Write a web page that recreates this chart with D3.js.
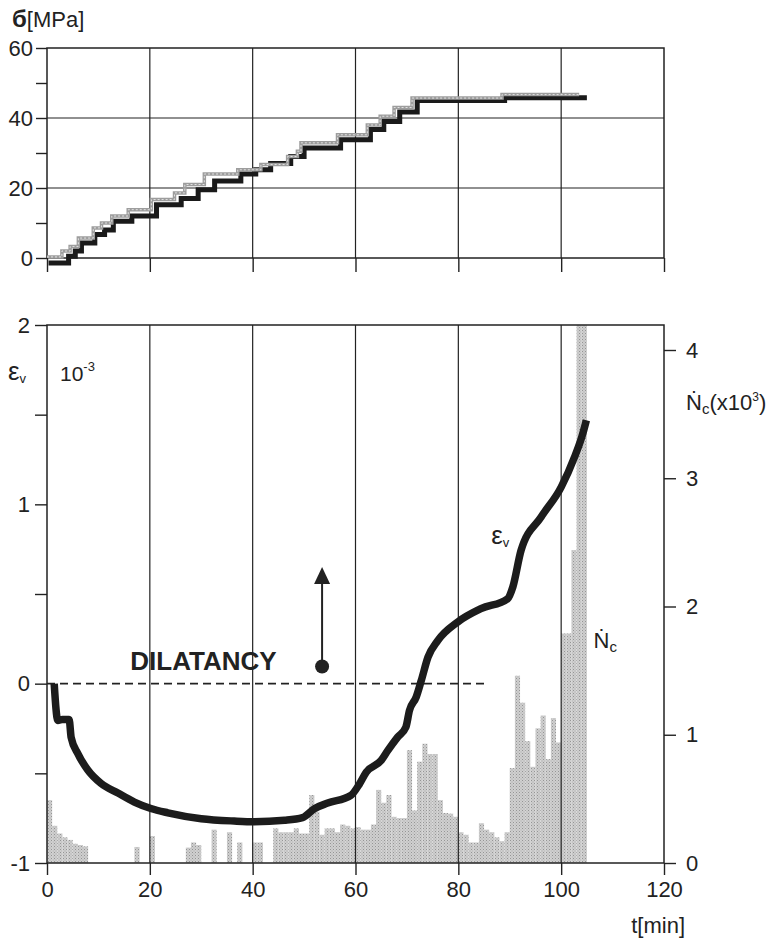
<!DOCTYPE html>
<html>
<head>
<meta charset="utf-8">
<script src="https://cdn.jsdelivr.net/npm/d3@7"></script>
<style>
  body { margin: 0; background: #fff; }
  svg text { font-family: "Liberation Sans", Arial, sans-serif; fill: #222; }
</style>
</head>
<body>
<svg id="chart"></svg>
<script>
const width = 771;
const height = 940;
const xRange = [47, 664];
const topPanel = { top: 48, bottom: 258 };
const botPanel = { top: 325, bottom: 863 };

// stress record, dark step curve (t in min, MPa)
const sigDarkT = [0.3, 4.2, 5.5, 6.7, 9.3, 11.2, 12.9, 16.5, 21.3, 26.1, 29.4, 32.6, 37.7, 40.6, 43.5, 47.4, 50, 57.1, 62.9, 65.5, 68.6, 72, 89, 105];
const sigDarkV = [-1.4, 0.5, 2, 4.3, 6.7, 8, 10.5, 12, 15.2, 17, 19.5, 22, 24, 25.2, 27, 29, 31.4, 33.8, 36.7, 39, 41.7, 45, 45.8, 45.8];
// stress record, light step curve
const sigLightT = [0, 2.9, 4.5, 6.1, 9, 10.6, 12.6, 15.8, 20.3, 24.8, 26.8, 30.6, 37.1, 41.6, 46.8, 48.7, 49.4, 56.5, 62.3, 64.8, 67.5, 71, 88.5, 103.5];
const sigLightV = [0.3, 2, 3.3, 5.7, 8.6, 10, 12, 13.8, 16.7, 18.6, 21, 24, 25.2, 26.7, 29, 30.5, 32.9, 35.2, 38, 40.5, 43, 45.7, 46.7, 46.7];

// volumetric strain (x10^-3)
const epsT = [1.4, 2.1, 3, 4.3, 4.7, 6, 7.9, 10.5, 13.8, 17, 20.2, 23.5, 30, 36.4, 40.3, 46.2, 49.7, 52, 54.6, 59.1, 60.8, 62.1, 65, 66.3, 68.2, 69.8, 70.5, 71.8, 72.8, 74.1, 76, 79.9, 84.4, 89.6, 90.6, 92.2, 96.1, 100, 102.6, 104.2, 104.9];
const epsV = [0, -0.205, -0.2, -0.2, -0.3, -0.39, -0.48, -0.556, -0.61, -0.66, -0.696, -0.72, -0.753, -0.766, -0.77, -0.762, -0.747, -0.697, -0.666, -0.623, -0.558, -0.493, -0.428, -0.372, -0.298, -0.242, -0.149, -0.075, 0.018, 0.148, 0.24, 0.344, 0.418, 0.474, 0.539, 0.743, 0.929, 1.096, 1.264, 1.394, 1.469];

// event rate Nc (x10^3), one value per minute starting at t = 0
const ncValues = [
  0.49, 0.29, 0.23, 0.20, 0.18, 0.15, 0.14, 0.13, 0, 0,
  0, 0, 0, 0, 0, 0, 0, 0.125, 0, 0,
  0.21, 0, 0, 0, 0, 0, 0, 0.12, 0.16, 0.14,
  0, 0, 0.26, 0, 0, 0.24, 0, 0.16, 0, 0,
  0.16, 0.16, 0, 0, 0.27, 0.24, 0.24, 0.24, 0.27, 0.23,
  0.23, 0.53, 0.40, 0.22, 0.27, 0.27, 0.24, 0.30, 0.29, 0.27,
  0.28, 0.26, 0.26, 0.30, 0.57, 0.47, 0.53, 0.36, 0.35, 0.35,
  0.88, 0.41, 0.79, 0.93, 0.85, 0.85, 0.49, 0.39, 0.385, 0.36,
  0.24, 0.22, 0.16, 0.16, 0.31, 0.26, 0.24, 0.20, 0.17, 0.24,
  0.74, 1.46, 1.25, 0.95, 0.75, 1.05, 1.15, 0.81, 1.13, 0.94,
  1.79, 1.79, 2.44, 4.3, 4.3
];

const timeTicks = [0, 20, 40, 60, 80, 100, 120];
const sigTicks = [0, 10, 20, 30, 40, 50, 60];
const epsTicks = [-1, -0.5, 0, 0.5, 1, 1.5, 2];
const ncTicks = [0, 1, 2, 3, 4];

const svg = d3.select("#chart")
    .attr("width", width)
    .attr("height", height);

const ink = "#222";

const x = d3.scaleLinear().domain([0, 120]).range(xRange);
const ySig = d3.scaleLinear().domain([0, 60]).range([topPanel.bottom, topPanel.top]);
const yEps = d3.scaleLinear().domain([-1, 2]).range([botPanel.bottom, botPanel.top]);
const yNc = d3.scaleLinear().domain([0, 4]).range([botPanel.bottom, 350]);

function styleAxis(g) {
    g.select(".domain").remove();
    g.selectAll(".tick line").attr("stroke", ink).attr("stroke-width", 1.4);
    g.selectAll(".tick text").attr("font-size", 22).attr("font-family", null).attr("fill", ink);
}

// halftone look for the histogram
const defs = svg.append("defs");
const pat = defs.append("pattern")
    .attr("id", "dots")
    .attr("width", 3).attr("height", 3)
    .attr("patternUnits", "userSpaceOnUse");
pat.append("rect").attr("width", 3).attr("height", 3).attr("fill", "#cfcfcf");
pat.append("rect").attr("width", 1).attr("height", 1).attr("fill", "#959595");
pat.append("rect").attr("x", 1.5).attr("y", 1.5).attr("width", 1).attr("height", 1).attr("fill", "#aaaaaa");

defs.append("clipPath").attr("id", "botClip")
  .append("rect")
    .attr("x", xRange[0]).attr("y", botPanel.top)
    .attr("width", xRange[1] - xRange[0]).attr("height", botPanel.bottom - botPanel.top);

// ---------- top panel: stress ----------
const topG = svg.append("g");

topG.append("g")
    .selectAll("line")
    .data([20, 40, 60, 80, 100])
    .join("line")
    .attr("x1", d => x(d)).attr("x2", d => x(d))
    .attr("y1", topPanel.top).attr("y2", topPanel.bottom)
    .attr("stroke", ink).attr("stroke-width", 1.2);

topG.append("g")
    .selectAll("line")
    .data([20, 40])
    .join("line")
    .attr("x1", xRange[0]).attr("x2", xRange[1])
    .attr("y1", d => ySig(d)).attr("y2", d => ySig(d))
    .attr("stroke", ink).attr("stroke-width", 1.2);

topG.append("rect")
    .attr("x", xRange[0]).attr("y", topPanel.top)
    .attr("width", xRange[1] - xRange[0]).attr("height", topPanel.bottom - topPanel.top)
    .attr("fill", "none").attr("stroke", ink).attr("stroke-width", 1.5);

const stepLine = d3.line()
    .x(d => x(d[0]))
    .y(d => ySig(d[1]))
    .curve(d3.curveStepAfter);

topG.append("path")
    .datum(d3.zip(sigDarkT, sigDarkV))
    .attr("d", stepLine)
    .attr("fill", "none").attr("stroke", "#1a1a1a").attr("stroke-width", 5);

topG.append("path")
    .datum(d3.zip(sigLightT, sigLightV))
    .attr("d", stepLine)
    .attr("fill", "none").attr("stroke", "#9d9d9d").attr("stroke-width", 3.5);

topG.append("path")
    .datum(d3.zip(sigLightT, sigLightV))
    .attr("d", stepLine)
    .attr("fill", "none").attr("stroke", "#e2e2e2").attr("stroke-width", 1)
    .attr("stroke-dasharray", "2,2");

topG.append("g")
    .attr("transform", `translate(${xRange[0]},0)`)
    .call(d3.axisLeft(ySig).tickValues(sigTicks).tickSize(11).tickPadding(3)
        .tickFormat(d => d % 20 === 0 ? d : ""))
    .call(styleAxis);

topG.append("g")
    .attr("transform", `translate(0,${topPanel.bottom})`)
    .call(d3.axisBottom(x).tickValues(timeTicks).tickSize(14).tickFormat(""))
    .call(styleAxis);

const sigTitle = svg.append("text").attr("x", 12).attr("y", 27).attr("font-size", 22);
sigTitle.append("tspan").attr("font-weight", "bold").attr("font-size", 24).text("б");
sigTitle.append("tspan").text("[MPa]");

// ---------- bottom panel: strain + event rate ----------
const botG = svg.append("g");

botG.append("g")
    .attr("clip-path", "url(#botClip)")
    .selectAll("rect")
    .data(ncValues)
    .join("rect")
    .attr("x", (d, i) => x(i))
    .attr("width", (d, i) => x(i + 1) - x(i))
    .attr("y", d => yNc(d))
    .attr("height", d => yNc(0) - yNc(d))
    .attr("fill", "url(#dots)");

botG.append("g")
    .selectAll("line")
    .data([20, 40, 60, 80, 100])
    .join("line")
    .attr("x1", d => x(d)).attr("x2", d => x(d))
    .attr("y1", botPanel.top).attr("y2", botPanel.bottom)
    .attr("stroke", ink).attr("stroke-width", 1.2);

botG.append("rect")
    .attr("x", xRange[0]).attr("y", botPanel.top)
    .attr("width", xRange[1] - xRange[0]).attr("height", botPanel.bottom - botPanel.top)
    .attr("fill", "none").attr("stroke", ink).attr("stroke-width", 1.5);

// zero strain reference
botG.append("line")
    .attr("x1", x(0)).attr("x2", x(85))
    .attr("y1", yEps(0)).attr("y2", yEps(0))
    .attr("stroke", ink).attr("stroke-width", 1.6)
    .attr("stroke-dasharray", "8,5");

botG.append("path")
    .datum(d3.zip(epsT, epsV))
    .attr("d", d3.line().x(d => x(d[0])).y(d => yEps(d[1])).curve(d3.curveMonotoneX))
    .attr("fill", "none").attr("stroke", "#1c1c1c")
    .attr("stroke-width", 7.5).attr("stroke-linejoin", "round");

// dilatancy marker
const arrowT = 53.5, arrowBase = 0.096, arrowTip = 0.65;
botG.append("line")
    .attr("x1", x(arrowT)).attr("x2", x(arrowT))
    .attr("y1", yEps(arrowBase)).attr("y2", yEps(arrowTip) + 14)
    .attr("stroke", ink).attr("stroke-width", 2);
botG.append("path")
    .attr("d", `M${x(arrowT)},${yEps(arrowTip)} l-8,17 l16,0 z`)
    .attr("fill", ink);
botG.append("circle")
    .attr("cx", x(arrowT)).attr("cy", yEps(arrowBase)).attr("r", 7)
    .attr("fill", ink);

botG.append("text")
    .attr("x", x(16.2)).attr("y", yEps(0.075))
    .attr("font-size", 26).attr("font-weight", "bold")
    .text("DILATANCY");

botG.append("g")
    .attr("transform", `translate(${xRange[0]},0)`)
    .call(d3.axisLeft(yEps).tickValues(epsTicks).tickSize(12).tickPadding(5)
        .tickFormat(d => Number.isInteger(d) ? d : ""))
    .call(styleAxis);

botG.append("g")
    .attr("transform", `translate(${xRange[1]},0)`)
    .call(d3.axisRight(yNc).tickValues(ncTicks).tickSize(12).tickPadding(10).tickFormat(d3.format("d")))
    .call(styleAxis);

botG.append("g")
    .attr("transform", `translate(0,${botPanel.bottom})`)
    .call(d3.axisBottom(x).tickValues(timeTicks).tickSize(12).tickPadding(6))
    .call(styleAxis);

// labels
const epsAxisLabel = svg.append("text").attr("x", 8).attr("y", 380).attr("font-size", 26);
epsAxisLabel.append("tspan").text("ε");
epsAxisLabel.append("tspan").attr("font-size", 13).attr("dy", 3).text("v");

const expLabel = svg.append("text").attr("x", 60).attr("y", 381).attr("font-size", 21);
expLabel.append("tspan").text("10");
expLabel.append("tspan").attr("font-size", 13).attr("dy", -10).text("-3");

const epsCurveLabel = svg.append("text").attr("x", x(86.4)).attr("y", yEps(0.78)).attr("font-size", 26);
epsCurveLabel.append("tspan").text("ε");
epsCurveLabel.append("tspan").attr("font-size", 13).attr("dy", 3).text("v");

const ncLabel = svg.append("text").attr("x", x(106.3)).attr("y", 648).attr("font-size", 22);
ncLabel.append("tspan").text("Ṅ");
ncLabel.append("tspan").attr("font-size", 15).attr("dy", 4).text("c");

const ncAxisLabel = svg.append("text").attr("x", 686).attr("y", 410).attr("font-size", 22);
ncAxisLabel.append("tspan").text("Ṅ");
ncAxisLabel.append("tspan").attr("font-size", 15).attr("dy", 4).text("c");
ncAxisLabel.append("tspan").attr("dy", -4).text("(x10");
ncAxisLabel.append("tspan").attr("font-size", 12).attr("dy", -9).text("3");
ncAxisLabel.append("tspan").attr("dy", 9).text(")");

svg.append("text")
    .attr("x", 685).attr("y", 933)
    .attr("text-anchor", "end").attr("font-size", 22)
    .text("t[min]");
</script>
</body>
</html>
